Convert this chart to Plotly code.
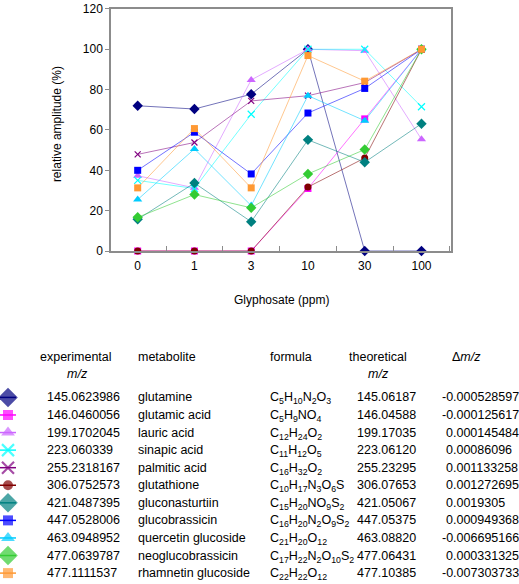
import plotly.graph_objects as go

# ---------------- data ----------------
categories = ["0", "1", "3", "10", "30", "100"]

names = ["glutamine", "glutamic acid", "lauric acid", "sinapic acid", "palmitic acid",
         "glutathione", "gluconasturtiin", "glucobrassicin", "quercetin glucoside",
         "neoglucobrassicin", "rhamnetin glucoside"]

glutamine = [72, 70.4, 77.7, 100, 0, 0]
glutamic_acid = [0, 0, 0, 31, 65.5, 100]
lauric_acid = [37.3, 31.3, 84.8, 100, 99.3, 55.4]
sinapic_acid = [35, 31, 67.8, 100, 100, 71.5]
palmitic_acid = [47.9, 53.8, 74.4, 77, 83.5, 100]
glutathione = [0, 0, 0, 31.7, 46.1, 100]
gluconasturtiin = [15.7, 33.7, 14.5, 55.1, 44, 63.1]
glucobrassicin = [40, 58.9, 38.2, 68.4, 80.6, 100]
quercetin_glucoside = [25.5, 50.6, 22.5, 77, 64.6, 100]
neoglucobrassicin = [16.7, 28, 21.4, 38.2, 50.3, 100]
rhamnetin_glucoside = [31.3, 60.7, 31.3, 96.9, 84.2, 100]

series_values = [glutamine, glutamic_acid, lauric_acid, sinapic_acid, palmitic_acid,
                 glutathione, gluconasturtiin, glucobrassicin, quercetin_glucoside,
                 neoglucobrassicin, rhamnetin_glucoside]

experimental_mz = ["145.0623986", "146.0460056", "199.1702045", "223.060339", "255.2318167",
                   "306.0752573", "421.0487395", "447.0528006", "463.0948952", "477.0639787",
                   "477.1111537"]
formulas = ["C<sub>5</sub>H<sub>10</sub>N<sub>2</sub>O<sub>3</sub>",
            "C<sub>5</sub>H<sub>9</sub>NO<sub>4</sub>",
            "C<sub>12</sub>H<sub>24</sub>O<sub>2</sub>",
            "C<sub>11</sub>H<sub>12</sub>O<sub>5</sub>",
            "C<sub>16</sub>H<sub>32</sub>O<sub>2</sub>",
            "C<sub>10</sub>H<sub>17</sub>N<sub>3</sub>O<sub>6</sub>S",
            "C<sub>15</sub>H<sub>20</sub>NO<sub>9</sub>S<sub>2</sub>",
            "C<sub>16</sub>H<sub>20</sub>N<sub>2</sub>O<sub>9</sub>S<sub>2</sub>",
            "C<sub>21</sub>H<sub>20</sub>O<sub>12</sub>",
            "C<sub>17</sub>H<sub>22</sub>N<sub>2</sub>O<sub>10</sub>S<sub>2</sub>",
            "C<sub>22</sub>H<sub>22</sub>O<sub>12</sub>"]
theoretical_mz = ["145.06187", "146.04588", "199.17035", "223.06120", "255.23295",
                  "306.07653", "421.05067", "447.05375", "463.08820", "477.06431",
                  "477.10385"]
delta_mz = ["-0.000528597", "-0.000125617", "0.000145484", "0.00086096", "0.001133258",
            "0.001272695", "0.0019305", "0.000949368", "-0.006695166", "0.000331325",
            "-0.007303733"]

# ---------------- styles ----------------
colors = ["#000080", "#FF00FF", "#CC66FF", "#00FFFF", "#800080", "#800000",
          "#008080", "#0000FF", "#00CCFF", "#33CC33", "#FF9933"]
symbols = ["diamond", "square", "triangle-up", "x-thin-open", "x-thin-open", "circle",
           "diamond", "square", "triangle-up", "diamond", "square"]
plot_sizes = [8, 7, 8, 7, 6, 7, 8, 7, 8, 8, 7]
legend_sizes = [15, 10, 12, 12, 12, 10, 15, 10, 12, 15, 10]


def rgba(hexc, a):
    h = hexc.lstrip("#")
    return "rgba(%d,%d,%d,%.2f)" % (int(h[0:2], 16), int(h[2:4], 16), int(h[4:6], 16), a)


FONT = "Liberation Sans, Arial, Helvetica, sans-serif"
W, H = 519, 584
TS = 12.5

fig = go.Figure()

for name, vals, col, sym, sz in zip(names, series_values, colors, symbols, plot_sizes):
    thin = sym in ("x-thin-open", "asterisk-open")
    fig.add_trace(go.Scatter(
        x=categories, y=vals, mode="lines+markers", name=name,
        line=dict(color=rgba(col, 0.55), width=1),
        marker=dict(symbol=sym, size=sz, color=col,
                    line=dict(color=col, width=1.2 if thin else 0)),
        xaxis="x", yaxis="y", showlegend=False, cliponaxis=False))

# ---------------- table (pixel-like coordinates) ----------------
row0 = 400
row_step = 18
rows_y = [row0 + row_step * i for i in range(len(names))]
hdr1, hdr2 = 359, 376
mk_x = 8

for i, (col, sym, sz) in enumerate(zip(colors, symbols, legend_sizes)):
    thin = sym in ("x-thin-open", "asterisk-open")
    fig.add_trace(go.Scatter(
        x=[0, mk_x, 16], y=[rows_y[i]] * 3, mode="lines+markers",
        line=dict(color=col, width=1.5),
        marker=dict(symbol=sym, size=[0, sz, 0], color=col,
                    line=dict(color=col, width=2.2 if thin else 0)),
        xaxis="x2", yaxis="y2", showlegend=False, hoverinfo="skip", cliponaxis=False))

annotations = []


def txt(x, y, s, anchor="left", size=TS):
    annotations.append(dict(x=x, y=y, xref="x2", yref="y2", text=s, showarrow=False,
                            xanchor=anchor, yanchor="middle",
                            font=dict(family=FONT, size=size, color="black")))


# headers
txt(76, hdr1, "experimental", "center")
txt(77, hdr2, "<i>m/z</i>", "center")
txt(136, hdr1, "metabolite")
txt(268, hdr1, "formula")
txt(378, hdr1, "theoretical", "center")
txt(378, hdr2, "<i>m/z</i>", "center")
txt(466, hdr1, "Δ<i>m/z</i>", "center")

for i in range(len(names)):
    y = rows_y[i]
    txt(45, y, experimental_mz[i])
    txt(136, y, names[i])
    txt(268, y + 1, formulas[i])
    txt(355, y, theoretical_mz[i])
    d = delta_mz[i]
    txt(440 if d.startswith("-") else 444, y, d)

# axis titles
x_left, x_right = 111, 451
y_top, y_bot = 2, 250
annotations.append(dict(x=57 / W, y=1 - 120 / H, xref="paper", yref="paper",
                        text="relative amplitude (%)", textangle=-90, showarrow=False,
                        xanchor="center", yanchor="middle",
                        font=dict(family=FONT, size=12, color="black")))
annotations.append(dict(x=(x_left + x_right) / 2 / W, y=1 - 300 / H, xref="paper", yref="paper",
                        text="Glyphosate (ppm)", showarrow=False,
                        xanchor="center", yanchor="middle",
                        font=dict(family=FONT, size=12, color="black")))

fig.update_layout(
    width=W, height=H,
    margin=dict(l=0, r=0, t=0, b=0, pad=0),
    paper_bgcolor="white", plot_bgcolor="rgba(0,0,0,0)",
    font=dict(family=FONT, size=12, color="black"),
    annotations=annotations,
    xaxis=dict(domain=[x_left / W, x_right / W], anchor="y", type="category",
               range=[-0.47, 5.52], showgrid=False, zeroline=False,
               showline=True, linecolor="#8c8c8c", linewidth=1.5, mirror=True,
               ticks="inside", tickson="boundaries", ticklen=5, tickcolor="#8c8c8c",
               ticklabelstandoff=3,
               tickfont=dict(family=FONT, size=12, color="black")),
    yaxis=dict(domain=[1 - y_bot / H, 1 - y_top / H], anchor="x",
               range=[0, 120], dtick=20, showgrid=False, zeroline=False,
               showline=True, linecolor="#8c8c8c", linewidth=1.5, mirror=True,
               ticks="outside", ticklen=4, tickcolor="#8c8c8c",
               ticklabeloverflow="allow",
               tickfont=dict(family=FONT, size=12, color="black")),
    xaxis2=dict(domain=[0, 1], anchor="y2", range=[0, W], visible=False, fixedrange=True),
    yaxis2=dict(domain=[0, 1], anchor="x2", range=[H, 0], visible=False, fixedrange=True),
)

fig.write_html("out.html", config={"displayModeBar": False},
               post_script="document.body.style.margin='0px';document.body.style.padding='0px';")
